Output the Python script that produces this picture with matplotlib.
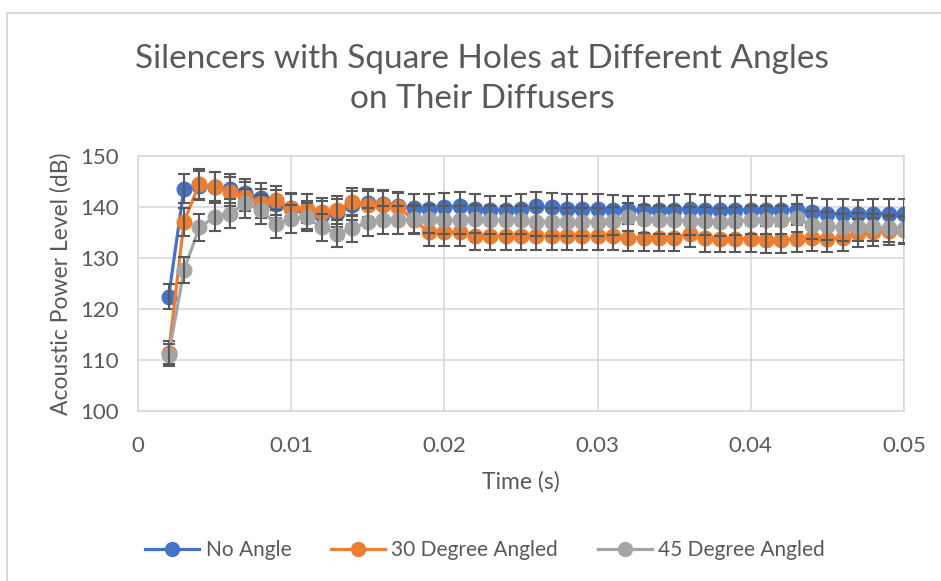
import matplotlib
matplotlib.use("Agg")
import matplotlib.pyplot as plt
from matplotlib.lines import Line2D

plt.rcParams['font.family'] = ['Lato', 'DejaVu Sans']

# time steps (s)
time_s = [0.002, 0.003, 0.004, 0.005, 0.006, 0.007, 0.008, 0.009, 0.010,
          0.011, 0.012, 0.013, 0.014, 0.015, 0.016, 0.017, 0.018, 0.019, 0.020,
          0.021, 0.022, 0.023, 0.024, 0.025, 0.026, 0.027, 0.028, 0.029, 0.030,
          0.031, 0.032, 0.033, 0.034, 0.035, 0.036, 0.037, 0.038, 0.039, 0.040,
          0.041, 0.042, 0.043, 0.044, 0.045, 0.046, 0.047, 0.048, 0.049, 0.050]

no_angle = [122.4, 143.6, 144.2, 144.0, 143.6, 142.7, 141.8, 140.6, 139.8,
            138.5, 138.4, 138.8, 140.3, 140.8, 140.6, 140.2, 139.8, 139.7, 140.0,
            140.1, 139.7, 139.4, 139.4, 139.7, 140.1, 140.0, 139.7, 139.7, 139.7,
            139.5, 139.4, 139.4, 139.4, 139.5, 139.7, 139.5, 139.4, 139.4, 139.5,
            139.4, 139.4, 139.5, 139.0, 138.7, 138.7, 138.6, 138.7, 138.7, 138.7]

deg30 = [111.4, 137.1, 144.5, 144.0, 143.0, 142.0, 140.7, 141.3, 139.9,
         139.7, 139.0, 139.4, 141.0, 140.4, 140.4, 140.0, 137.4, 135.1, 135.1,
         135.1, 134.3, 134.3, 134.3, 134.3, 134.3, 134.3, 134.3, 134.3, 134.3,
         134.3, 134.0, 134.0, 134.0, 134.0, 134.8, 133.9, 133.8, 133.8, 133.8,
         133.6, 133.6, 133.8, 134.0, 133.8, 134.0, 134.9, 135.1, 135.3, 135.4]

deg45 = [111.0, 127.6, 136.0, 138.0, 138.7, 140.7, 139.5, 136.7, 137.7,
         138.0, 136.0, 134.8, 135.8, 137.1, 137.4, 137.4, 137.6, 137.7, 137.4,
         137.4, 137.7, 137.4, 137.4, 137.4, 137.1, 137.1, 137.1, 137.1, 137.1,
         137.2, 138.0, 137.7, 137.5, 137.4, 137.3, 137.3, 137.1, 137.3, 137.4,
         137.4, 137.5, 137.8, 136.4, 136.2, 136.0, 136.1, 136.0, 135.8, 135.6]

labels = ['No Angle', '30 Degree Angled', '45 Degree Angled']
colors = ['#4472C4', '#ED7D31', '#A5A5A5']
err_pct = 0.02  # percentage error bars

text_col = '#595959'
grid_col = '#D9D9D9'

fig = plt.figure(figsize=(9.41, 5.81), dpi=100)
ax = fig.add_axes([138 / 941, 1 - 411 / 581, (904 - 138) / 941, (411 - 156) / 581])

series = [no_angle, deg30, deg45]
for i, (vals, c) in enumerate(zip(series, colors)):
    errs = [v * err_pct for v in vals]
    ax.plot(time_s, vals, color=c, lw=2.3, marker='o', ms=10.5, zorder=3 + i * 2)
    ax.errorbar(time_s, vals, yerr=errs, fmt='none', ecolor=text_col,
                elinewidth=1.5, capsize=4.5, capthick=1.5, zorder=4 + i * 2)

ax.set_xlim(0, 0.05)
ax.set_ylim(100, 150)
ax.set_xticks([0, 0.01, 0.02, 0.03, 0.04, 0.05])
ax.set_xticklabels(['0', '0.01', '0.02', '0.03', '0.04', '0.05'])
ax.set_yticks([100, 110, 120, 130, 140, 150])
ax.grid(True, color=grid_col, lw=1.2)
ax.set_axisbelow(True)
for s in ax.spines.values():
    s.set_color(grid_col)
    s.set_linewidth(1.2)
ax.tick_params(length=0, labelsize=16, colors=text_col)
ax.tick_params(axis='x', pad=18)
ax.tick_params(axis='y', pad=14)

ax.set_xlabel('Time (s)', fontsize=16.5, color=text_col, labelpad=11)
ax.set_ylabel('Acoustic Power Level (dB)', fontsize=16.5, color=text_col, labelpad=6)

fig.text(482 / 941, 1 - 79 / 581,
         'Silencers with Square Holes at Different Angles\non Their Diffusers',
         ha='center', va='center', fontsize=24, color=text_col, linespacing=1.38)

handles = [Line2D([0], [0], color=c, lw=2.3, marker='o', ms=10) for c in colors]
fig.legend(handles, labels, loc='center', bbox_to_anchor=(485 / 941, 1 - 550 / 581),
           ncol=3, frameon=False, fontsize=15, labelcolor=text_col,
           handlelength=2.6, columnspacing=1.9, handletextpad=0.3)

# chart border (only top/left visible in the crop)
fig.add_artist(Line2D([7 / 941, 7 / 941], [0, 1 - 13 / 581], transform=fig.transFigure,
                      color=grid_col, lw=1.5))
fig.add_artist(Line2D([7 / 941, 1], [1 - 13 / 581, 1 - 13 / 581], transform=fig.transFigure,
                      color=grid_col, lw=1.5))

fig.savefig('out.png', dpi=100)
